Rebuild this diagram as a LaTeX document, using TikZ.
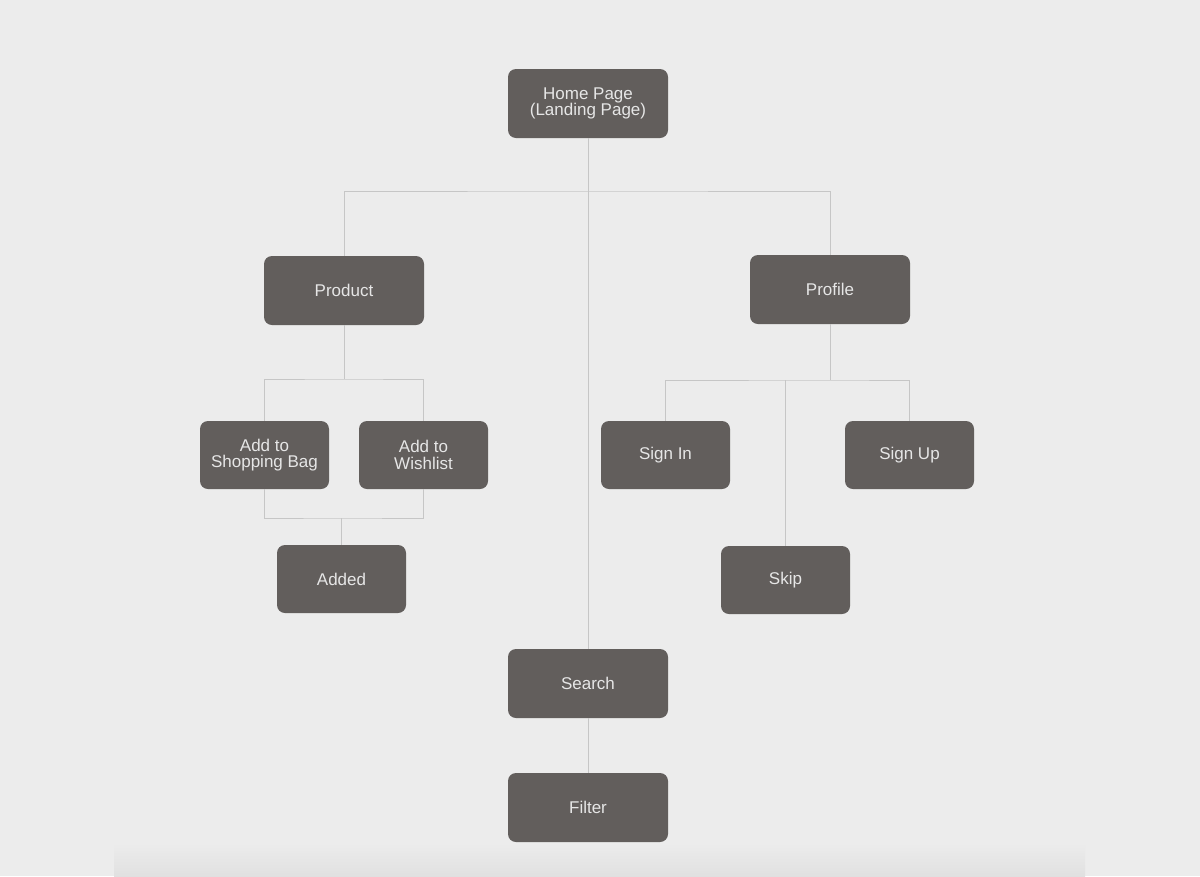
\documentclass[tikz,border=0pt]{standalone}
\usepackage{fontspec}
\setmainfont{Liberation Sans}
\definecolor{pagebg}{HTML}{ECECEC}
\definecolor{boxfill}{HTML}{625E5C}
\definecolor{boxtext}{HTML}{E6E6E6}
\definecolor{linkgray}{HTML}{C6C6C6}
\tikzset{
  page/.style={rounded corners=8pt, fill=boxfill, text=boxtext, align=center,
    inner sep=0pt, font=\fontsize{17}{16.5}\selectfont},
  wide/.style={page, minimum width=160pt, minimum height=69pt},
  small/.style={page, minimum width=129pt, minimum height=68pt},
  link/.style={draw=linkgray, line width=0.9pt}
}
\begin{document}
\begin{tikzpicture}[x=1pt,y=-1pt]
  \fill[pagebg] (0,0) rectangle (1200,876);
  \useasboundingbox (0,0) rectangle (1200,876);
  \shade[top color=pagebg, bottom color=black!12] (114,843) rectangle (1085,876);

  % boxes
  \node[wide] (home) at (588,103.5) {Home Page\\(Landing Page)};
  \node[wide] (product) at (344,290.5) {Product};
  \node[wide] (profile) at (830,289.5) {Profile};
  \node[small] (bag) at (264.5,455) {Add to\\Shopping Bag};
  \node[small] (wish) at (423.5,455) {Add to\\Wishlist};
  \node[small] (added) at (341.5,579) {Added};
  \node[small] (signin) at (665.5,455) {Sign In};
  \node[small] (signup) at (909.5,455) {Sign Up};
  \node[small] (skip) at (785.5,580) {Skip};
  \node[wide] (search) at (588,683.5) {Search};
  \node[wide] (filter) at (588,807.5) {Filter};

  % bus points
  \coordinate (topbus) at (588,191);
  \coordinate (pbus) at (344,379);
  \coordinate (abus) at (341.5,518);
  \coordinate (rbus) at (830,380);

  % connectors
  \draw[link] (home.south) -- (search.north);
  \draw[link] (product.north) |- (topbus) -| (profile.north);
  \draw[link] (product.south) -- (pbus);
  \draw[link] (bag.north) |- (pbus) -| (wish.north);
  \draw[link] (bag.south) |- (abus) -| (wish.south);
  \draw[link] (abus) -- (added.north);
  \draw[link] (profile.south) -- (rbus);
  \draw[link] (signin.north) |- (rbus) -| (signup.north);
  \draw[link] (skip.north) -- (skip.north |- rbus);
  \draw[link] (search.south) -- (filter.north);
\end{tikzpicture}
\end{document}
